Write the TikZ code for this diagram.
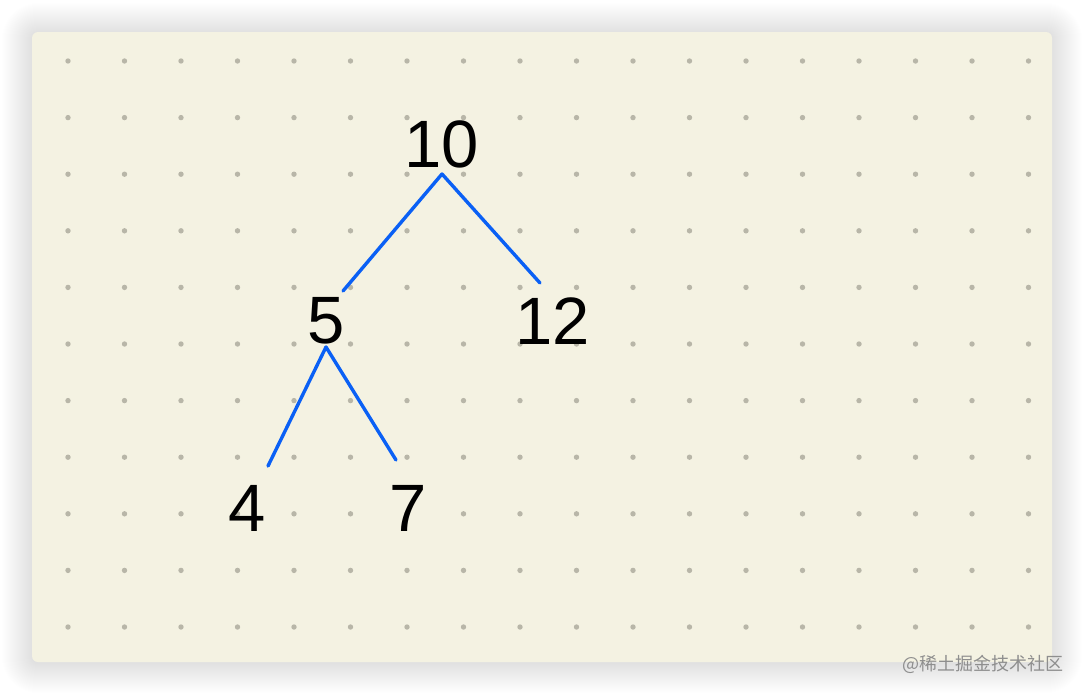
\documentclass[tikz,border=0pt]{standalone}
\usepackage{fontspec}
\setmainfont{Liberation Sans}
\newfontfamily\cjkfont{Noto Sans CJK SC}
\definecolor{cardbg}{HTML}{F4F2E2}
\definecolor{dotc}{HTML}{B8B6A8}
\definecolor{edgec}{HTML}{0A60F5}
\definecolor{wmc}{HTML}{8E8E8E}
\tikzset{
  num/.style={font=\fontsize{67}{80}\selectfont, text=black, inner sep=0pt},
  edge/.style={draw=edgec, line width=3.4pt, line cap=round, line join=round},
}
\begin{document}
\begin{tikzpicture}[x=1pt,y=-1pt]
\useasboundingbox (0,0) rectangle (1084,694);
\fill[white] (0,0) rectangle (1084,694);
% shadow
\foreach \i in {1,...,30}{
  \fill[black, opacity=0.0045, rounded corners={6+\i}] (32-\i,33-\i) rectangle (1052+\i,663+\i);
}
\fill[cardbg, rounded corners=6] (32,32) rectangle (1052,662);
% dots
\foreach \c in {0,...,17}{
  \foreach \r in {0,...,10}{
    \fill[dotc] (68+\c*56.5, 61+\r*56.6) circle (2.7);
  }
}
% nodes
\node[num] (n10) at (442,144) {10};
\node[num] (n5) at (326,321) {5};
\node[num] (n12) at (553,321) {12};
\node[num] (n4) at (247,508) {4};
\node[num] (n7) at (408,508) {7};
% edge ends
\coordinate (t10) at (442,174);
\coordinate (e5) at (343,291);
\coordinate (e12) at (540,283);
\coordinate (t5) at (326,347);
\coordinate (e4) at (268,466);
\coordinate (e7) at (396,460);
\draw[edge] (e5) -- (t10) -- (e12);
\draw[edge] (e4) -- (t5) -- (e7);
% watermark
\node[font=\cjkfont\fontsize{18}{21}\selectfont, text=wmc, anchor=east, inner sep=0pt] (wm) at (1064,664) {@稀土掘金技术社区};
\end{tikzpicture}
\end{document}
